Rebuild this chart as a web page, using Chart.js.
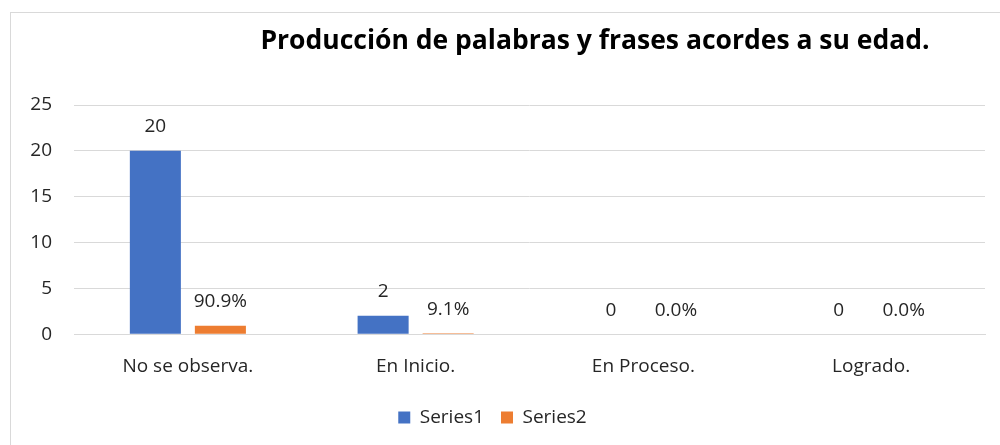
<!DOCTYPE html>
<html>
<head>
<meta charset="utf-8">
<script src="https://cdn.jsdelivr.net/npm/chart.js@4.4.0/dist/chart.umd.min.js"></script>
<style>
  body { margin: 0; background: #fff; }
  #frame { position: absolute; left: 10px; top: 12px; width: 1000px; height: 450px; border: 1px solid #d9d9d9; }
  #wrap { position: absolute; left: 0; top: 0; width: 1000px; height: 445px; }
</style>
</head>
<body>
<div id="frame"></div>
<div id="wrap"><canvas id="myChart"></canvas></div>
<script>
// data
var categories = ['No se observa.', 'En Inicio.', 'En Proceso.', 'Logrado.']
var series1 = [20, 2, 0, 0]
var series2 = [0.909, 0.091, 0, 0]
var yTicks = [0, 5, 10, 15, 20, 25]
var chartTitle = 'Producción de palabras y frases acordes a su edad.'

var textColor = '#262626'
var fontName = "'Open Sans', sans-serif"

// title drawn off-centre, like the Excel original
var titlePlugin = {
  id: 'offTitle',
  afterDraw: function(chart){
    var c = chart.ctx
    c.save()
    c.font = "bold 26.5px " + fontName
    c.fillStyle = '#000'
    c.textAlign = 'center'
    c.textBaseline = 'middle'
    c.fillText(chartTitle, 595, 41)
    c.restore()
  }
}

// value labels above each bar
var labelPlugin = {
  id: 'barLabels',
  afterDatasetsDraw: function(chart){
    var c = chart.ctx
    c.save()
    c.font = "19px " + fontName
    c.fillStyle = textColor
    c.textAlign = 'center'
    c.textBaseline = 'middle'
    chart.data.datasets.forEach(function(ds, i){
      var meta = chart.getDatasetMeta(i)
      meta.data.forEach(function(bar, j){
        var v = ds.data[j]
        var txt = i == 0 ? String(v) : (v * 100).toFixed(1) + '%'
        c.fillText(txt, bar.x, bar.y - 24)
      })
    })
    c.restore()
  }
}

const ctx = document.getElementById('myChart');

new Chart(ctx, {
  type: 'bar',
  data: {
    labels: categories,
    datasets: [{
      label: 'Series1',
      data: series1,
      backgroundColor: '#4472C4',
      barPercentage: 0.785,
      categoryPercentage: 0.571
    }, {
      label: 'Series2',
      data: series2,
      backgroundColor: '#ED7D31',
      barPercentage: 0.785,
      categoryPercentage: 0.571
    }]
  },
  options: {
    responsive: true,
    maintainAspectRatio: false,
    animation: false,
    layout: { padding: { top: 105, right: 15, left: 0, bottom: 8 } },
    scales: {
      x: {
        grid: { display: false },
        border: { color: '#d9d9d9' },
        ticks: { color: textColor, font: { family: fontName, size: 19 }, padding: 13 }
      },
      y: {
        min: 0,
        max: 25,
        afterBuildTicks: function(scale){
          scale.ticks = yTicks.map(function(v){ return { value: v } })
        },
        afterFit: function(scale){ scale.width = 74 },
        grid: { color: '#d9d9d9', drawTicks: false },
        border: { display: false },
        ticks: { color: textColor, font: { family: fontName, size: 19 }, padding: 22 }
      }
    },
    plugins: {
      legend: {
        position: 'bottom',
        labels: {
          boxWidth: 12,
          boxHeight: 12,
          color: textColor,
          font: { family: fontName, size: 19 },
          padding: 17
        }
      },
      tooltip: { enabled: false }
    }
  },
  plugins: [titlePlugin, labelPlugin]
});
</script>
</body>
</html>
